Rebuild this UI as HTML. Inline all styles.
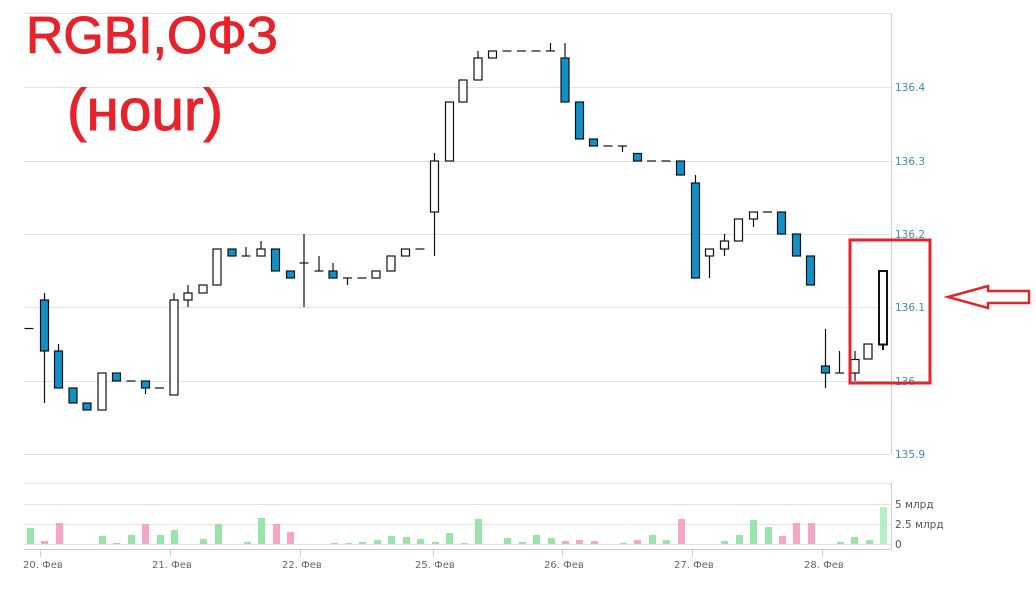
<!DOCTYPE html>
<html><head><meta charset="utf-8"><style>
html,body{margin:0;padding:0;background:#fff;}
svg{display:block;}
</style></head><body>
<svg width="1036" height="605" viewBox="0 0 1036 605" xmlns="http://www.w3.org/2000/svg">
<rect width="1036" height="605" fill="#fff"/>
<!-- main grid -->
<g stroke="#e2e2e2" stroke-width="1" shape-rendering="crispEdges">
<line x1="24" y1="13.5" x2="891" y2="13.5"/>
<line x1="24" y1="87.5" x2="891" y2="87.5"/>
<line x1="24" y1="161.5" x2="891" y2="161.5"/>
<line x1="24" y1="234.5" x2="891" y2="234.5"/>
<line x1="24" y1="307.5" x2="891" y2="307.5"/>
<line x1="24" y1="381.5" x2="891" y2="381.5"/>
<line x1="24" y1="454.5" x2="891" y2="454.5"/>
<line x1="24" y1="483.5" x2="891" y2="483.5"/>
<line x1="24" y1="504.5" x2="891" y2="504.5"/>
<line x1="24" y1="524.5" x2="891" y2="524.5"/>
<line x1="24" y1="544.5" x2="891" y2="544.5"/>
</g>
<g stroke="#cfcfcf" stroke-width="1" shape-rendering="crispEdges">
<line x1="891.5" y1="13" x2="891.5" y2="454"/>
<line x1="891.5" y1="483" x2="891.5" y2="549"/>
<line x1="24" y1="549.5" x2="891" y2="549.5"/>
<line x1="40.5" y1="549" x2="40.5" y2="557"/>
<line x1="170.5" y1="549" x2="170.5" y2="557"/>
<line x1="300.5" y1="549" x2="300.5" y2="557"/>
<line x1="433.5" y1="549" x2="433.5" y2="557"/>
<line x1="562.5" y1="549" x2="562.5" y2="557"/>
<line x1="692.5" y1="549" x2="692.5" y2="557"/>
<line x1="822.5" y1="549" x2="822.5" y2="557"/>
</g>
<!-- y labels -->
<g font-family="DejaVu Sans, Liberation Sans, sans-serif" font-size="10.5" fill="#3d8db4">
<text x="895" y="91">136.4</text>
<text x="895" y="165">136.3</text>
<text x="895" y="238">136.2</text>
<text x="895" y="311">136.1</text>
<text x="895" y="385">136</text>
<text x="895" y="458">135.9</text>
</g>
<g font-family="DejaVu Sans, Liberation Sans, sans-serif" font-size="10.5" fill="#555">
<text x="895" y="508">5 млрд</text>
<text x="895" y="528">2.5 млрд</text>
<text x="895" y="548">0</text>
</g>
<g font-family="DejaVu Sans, Liberation Sans, sans-serif" font-size="10" fill="#666">
<text x="23" y="568">20. Фев</text>
<text x="152" y="568">21. Фев</text>
<text x="282" y="568">22. Фев</text>
<text x="415" y="568">25. Фев</text>
<text x="544" y="568">26. Фев</text>
<text x="674" y="568">27. Фев</text>
<text x="804" y="568">28. Фев</text>
</g>
<!-- volume -->
<g shape-rendering="crispEdges">
<rect x="27" y="528" width="7" height="16" fill="#98e4ab"/>
<rect x="41" y="541" width="7" height="3" fill="#f5a6c4"/>
<rect x="56" y="523" width="7" height="21" fill="#f5a6c4"/>
<rect x="99" y="536" width="7" height="8" fill="#98e4ab"/>
<rect x="113" y="543" width="7" height="1" fill="#f5a6c4"/>
<rect x="128" y="535" width="7" height="9" fill="#98e4ab"/>
<rect x="142" y="524" width="7" height="20" fill="#f5a6c4"/>
<rect x="157" y="535" width="7" height="9" fill="#98e4ab"/>
<rect x="171" y="530" width="7" height="14" fill="#98e4ab"/>
<rect x="200" y="539" width="7" height="5" fill="#98e4ab"/>
<rect x="215" y="524" width="7" height="20" fill="#98e4ab"/>
<rect x="244" y="542" width="7" height="2" fill="#98e4ab"/>
<rect x="258" y="518" width="7" height="26" fill="#98e4ab"/>
<rect x="273" y="524" width="7" height="20" fill="#f5a6c4"/>
<rect x="287" y="532" width="7" height="12" fill="#f5a6c4"/>
<rect x="331" y="543" width="7" height="1" fill="#f5a6c4"/>
<rect x="345" y="543" width="7" height="1" fill="#98e4ab"/>
<rect x="359" y="542" width="7" height="2" fill="#98e4ab"/>
<rect x="374" y="540" width="7" height="4" fill="#98e4ab"/>
<rect x="388" y="536" width="7" height="8" fill="#98e4ab"/>
<rect x="403" y="537" width="7" height="7" fill="#98e4ab"/>
<rect x="417" y="539" width="7" height="5" fill="#98e4ab"/>
<rect x="432" y="542" width="7" height="2" fill="#98e4ab"/>
<rect x="446" y="533" width="7" height="11" fill="#98e4ab"/>
<rect x="461" y="543" width="7" height="1" fill="#98e4ab"/>
<rect x="475" y="519" width="7" height="25" fill="#98e4ab"/>
<rect x="504" y="538" width="7" height="6" fill="#98e4ab"/>
<rect x="519" y="542" width="7" height="2" fill="#98e4ab"/>
<rect x="533" y="535" width="7" height="9" fill="#98e4ab"/>
<rect x="548" y="538" width="7" height="6" fill="#98e4ab"/>
<rect x="562" y="541" width="7" height="3" fill="#f5a6c4"/>
<rect x="576" y="540" width="7" height="4" fill="#f5a6c4"/>
<rect x="591" y="541" width="7" height="3" fill="#f5a6c4"/>
<rect x="620" y="543" width="7" height="1" fill="#98e4ab"/>
<rect x="634" y="540" width="7" height="4" fill="#f5a6c4"/>
<rect x="649" y="535" width="7" height="9" fill="#98e4ab"/>
<rect x="663" y="540" width="7" height="4" fill="#98e4ab"/>
<rect x="678" y="519" width="7" height="25" fill="#f5a6c4"/>
<rect x="721" y="541" width="7" height="3" fill="#98e4ab"/>
<rect x="736" y="535" width="7" height="9" fill="#98e4ab"/>
<rect x="750" y="520" width="7" height="24" fill="#98e4ab"/>
<rect x="765" y="527" width="7" height="17" fill="#98e4ab"/>
<rect x="779" y="536" width="7" height="8" fill="#f5a6c4"/>
<rect x="793" y="523" width="7" height="21" fill="#f5a6c4"/>
<rect x="808" y="523" width="7" height="21" fill="#f5a6c4"/>
<rect x="837" y="542" width="7" height="2" fill="#98e4ab"/>
<rect x="851" y="537" width="7" height="7" fill="#98e4ab"/>
<rect x="866" y="540" width="7" height="4" fill="#98e4ab"/>
<rect x="880" y="507" width="7" height="37" fill="#b3f0c4"/>
</g>
<!-- wicks -->
<g stroke="#111" stroke-width="1.2">
<line x1="44.5" y1="293" x2="44.5" y2="403"/>
<line x1="58.5" y1="344" x2="58.5" y2="351"/>
<line x1="145.5" y1="388" x2="145.5" y2="394"/>
<line x1="174" y1="293" x2="174" y2="300"/>
<line x1="188" y1="285" x2="188" y2="307"/>
<line x1="246" y1="247" x2="246" y2="256"/>
<line x1="261" y1="241" x2="261" y2="249"/>
<line x1="304" y1="234" x2="304" y2="307"/>
<line x1="319" y1="256" x2="319" y2="271"/>
<line x1="333" y1="263" x2="333" y2="271"/>
<line x1="347.5" y1="278" x2="347.5" y2="285"/>
<line x1="434.5" y1="153" x2="434.5" y2="256"/>
<line x1="478" y1="51" x2="478" y2="58"/>
<line x1="550.5" y1="43" x2="550.5" y2="51"/>
<line x1="565" y1="43" x2="565" y2="58"/>
<line x1="622.5" y1="146" x2="622.5" y2="152"/>
<line x1="695.5" y1="175" x2="695.5" y2="183"/>
<line x1="709.5" y1="256" x2="709.5" y2="278"/>
<line x1="724.5" y1="234" x2="724.5" y2="256"/>
<line x1="753.5" y1="219" x2="753.5" y2="227"/>
<line x1="825.5" y1="329" x2="825.5" y2="388"/>
<line x1="839.5" y1="351" x2="839.5" y2="373"/>
<line x1="855" y1="351" x2="855" y2="381"/>
<line x1="883" y1="344" x2="883" y2="350" stroke-width="2"/>
</g>
<!-- doji -->
<g stroke="#111" stroke-width="1.2">
<line x1="24.5" y1="328.5" x2="33.5" y2="328.5"/>
<line x1="126.5" y1="381" x2="135.5" y2="381"/>
<line x1="155" y1="388" x2="164" y2="388"/>
<line x1="241.5" y1="256" x2="250.5" y2="256"/>
<line x1="299.5" y1="263" x2="308.5" y2="263"/>
<line x1="314.5" y1="271" x2="323.5" y2="271"/>
<line x1="343" y1="278" x2="352" y2="278"/>
<line x1="357.5" y1="278" x2="366.5" y2="278"/>
<line x1="415.5" y1="249" x2="424.5" y2="249"/>
<line x1="502.5" y1="51" x2="511.5" y2="51"/>
<line x1="517" y1="51" x2="526" y2="51"/>
<line x1="531.5" y1="51" x2="540.5" y2="51"/>
<line x1="546" y1="51" x2="555" y2="51"/>
<line x1="603.5" y1="146" x2="612.5" y2="146"/>
<line x1="618" y1="146" x2="627" y2="146"/>
<line x1="647" y1="161" x2="656" y2="161"/>
<line x1="661.5" y1="161" x2="670.5" y2="161"/>
<line x1="763" y1="212" x2="772" y2="212"/>
<line x1="835" y1="373" x2="844" y2="373"/>
</g>
<!-- blue bodies -->
<g fill="#1190c8" stroke="#111" stroke-width="1.2">
<rect x="40.5" y="300" width="8" height="51"/>
<rect x="54.5" y="351" width="8" height="37"/>
<rect x="69" y="388" width="8" height="15"/>
<rect x="83" y="403" width="8" height="7"/>
<rect x="112.5" y="373" width="8" height="8"/>
<rect x="141.5" y="381" width="8" height="7"/>
<rect x="228" y="249" width="8" height="7"/>
<rect x="271.5" y="249" width="8" height="22"/>
<rect x="286.5" y="271" width="8" height="7"/>
<rect x="329" y="271" width="8" height="7"/>
<rect x="561" y="58" width="8" height="44"/>
<rect x="575.5" y="102" width="8" height="37"/>
<rect x="589.5" y="139" width="8" height="7"/>
<rect x="633.5" y="153.5" width="8" height="7.5"/>
<rect x="676.5" y="161" width="8" height="14"/>
<rect x="691.5" y="183" width="8" height="95"/>
<rect x="777.5" y="212" width="8" height="22"/>
<rect x="792.5" y="234" width="8" height="22"/>
<rect x="806.5" y="256" width="8" height="29"/>
<rect x="821.5" y="366" width="8" height="7"/>
</g>
<!-- white bodies -->
<g fill="#fff" stroke="#111" stroke-width="1.2">
<rect x="98" y="373" width="8" height="37"/>
<rect x="170" y="300" width="8" height="95"/>
<rect x="184" y="293" width="8" height="7"/>
<rect x="199" y="285" width="8" height="8"/>
<rect x="213" y="249" width="8" height="36"/>
<rect x="257" y="249" width="8" height="7"/>
<rect x="372" y="271" width="8" height="7"/>
<rect x="387" y="256" width="8" height="15"/>
<rect x="401.5" y="249" width="8" height="7"/>
<rect x="430.5" y="161" width="8" height="51"/>
<rect x="445.5" y="102" width="8" height="59"/>
<rect x="459" y="80" width="8" height="22"/>
<rect x="474" y="58" width="8" height="22"/>
<rect x="488.5" y="51" width="8" height="7"/>
<rect x="705.5" y="249" width="8" height="7"/>
<rect x="720.5" y="241" width="8" height="8"/>
<rect x="734.5" y="219" width="8" height="22"/>
<rect x="749.5" y="212" width="8" height="7"/>
<rect x="851" y="359.5" width="8" height="13.5"/>
<rect x="864" y="344" width="8" height="15"/>
<rect x="879" y="271" width="8" height="73.5" stroke-width="2"/>
</g>
<!-- annotation -->
<rect x="850" y="240" width="80" height="143" fill="none" stroke="#e0262b" stroke-width="3"/>
<polygon points="948,297 988,286 988,291 1029,291 1029,303 988,303 988,308" fill="#fff" stroke="#e0262b" stroke-width="2.5" stroke-linejoin="miter"/>
<!-- title -->
<g font-family="Liberation Sans, DejaVu Sans, sans-serif" fill="#e8222a" stroke="#e8222a" stroke-width="1">
<text x="26" y="53" font-size="52" textLength="252" lengthAdjust="spacingAndGlyphs">RGBI,ОФЗ</text>
<text x="67" y="130" font-size="58" textLength="156" lengthAdjust="spacingAndGlyphs">(нour)</text>
</g>
</svg>
</body></html>
